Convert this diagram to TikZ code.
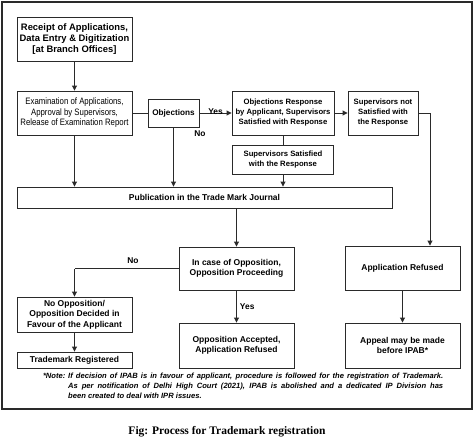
\documentclass[tikz,border=0pt]{standalone}
\usepackage{fontspec}
\setmainfont{Liberation Sans}
\newfontfamily\narrowfont[FakeStretch=0.84]{Liberation Sans}
\newfontfamily\capfont{Liberation Serif}
\usetikzlibrary{arrows.meta}
\definecolor{ln}{HTML}{2A2A2A}
\tikzset{
  box/.style={draw=ln, line width=0.9pt, inner sep=0pt, align=center, font=\fontsize{8.5}{10.5}\selectfont\bfseries, text=black},
  small/.style={font=\fontsize{7.7}{10}\selectfont\bfseries},
  arr/.style={draw=ln, line width=0.9pt, -{Triangle[length=5pt,width=5pt]}},
  ln/.style={draw=ln, line width=0.9pt},
  lab/.style={font=\fontsize{8.4}{9}\selectfont\bfseries, text=black, inner sep=0pt}
}
\begin{document}
\begin{tikzpicture}[x=1pt,y=-1pt]
\useasboundingbox (0,0) rectangle (474,442);
\draw[draw=ln, line width=2.5pt] (2,2) rectangle (472,409);
% boxes
\node[box, minimum width=115pt, minimum height=44pt, font=\fontsize{9.4}{10.7}\selectfont\bfseries] (rec) at (74.5,39) {Receipt of Applications,\\Data Entry \& Digitization\\{[at Branch Offices]}};
\node[box, minimum width=115pt, minimum height=44pt, font=\fontsize{9.3}{10.5}\narrowfont] (exam) at (74.5,113) {Examination of Applications,\\Approval by Supervisors,\\Release of Examination Report};
\node[box, minimum width=51pt, minimum height=28pt, font=\fontsize{8.2}{10}\selectfont\bfseries] (obj) at (173.5,113) {Objections};
\node[box, small, minimum width=102pt, minimum height=44pt] (resp) at (283,113) {Objections Response\\by Applicant, Supervisors\\Satisfied with Response};
\node[box, small, minimum width=70pt, minimum height=44pt] (notsat) at (383,113) {Supervisors not\\Satisfied with\\the Response};
\node[box, small, minimum width=101pt, minimum height=29pt] (sat) at (283,159.5) {Supervisors Satisfied\\with the Response};
\node[box, minimum width=375pt, minimum height=21pt] (pub) at (204.5,197.5) {Publication in the Trade Mark Journal};
\node[box, minimum width=115pt, minimum height=43pt] (opp) at (236.5,268.5) {In case of Opposition,\\Opposition Proceeding};
\node[box, minimum width=115pt, minimum height=35pt] (noopp) at (74.5,314.5) {No Opposition/\\Opposition Decided in\\Favour of the Applicant};
\node[box, minimum width=115pt, minimum height=16pt] (tmreg) at (74.5,360) {Trademark Registered};
\node[box, minimum width=115pt, minimum height=45pt] (acc) at (236.5,345.5) {Opposition Accepted,\\Application Refused};
\node[box, minimum width=115pt, minimum height=44pt] (refused) at (402.5,268) {Application Refused};
\node[box, minimum width=115pt, minimum height=45pt] (appeal) at (402.5,345.5) {Appeal may be made\\before IPAB*};
% coordinates
\coordinate (c1) at (430,113);
\coordinate (c2) at (74.5,268.5);
% connectors
\draw[arr] (rec) -- (exam);
\draw[ln] (exam) -- (obj);
\draw[arr] (obj) -- node[lab, above, yshift=-2pt]{Yes} (resp);
\node[lab] (no1) at (200,134) {No};
\draw[arr] (resp) -- (notsat);
\draw[ln] (notsat.east) -- (c1);
\draw[arr] (c1) -- (c1 |- refused.north);
\draw[ln] (resp) -- (sat);
\draw[arr] (sat) -- (sat |- pub.north);
\draw[arr] (exam) -- (exam |- pub.north);
\draw[arr] (obj) -- (obj |- pub.north);
\draw[arr] (opp.north |- pub.south) -- (opp.north);
\draw[ln] (opp.west) -- (c2);
\draw[arr] (c2) -- (noopp.north);
\node[lab] (no2) at (133,261) {No};
\draw[arr] (opp) -- node[lab, right, xshift=3pt]{Yes} (acc);
\draw[arr] (noopp) -- (tmreg);
\draw[arr] (refused) -- (appeal);
% note
\node[inner sep=0pt, anchor=north west, text width=375pt, align=justify, font=\fontsize{7.6}{10}\selectfont\bfseries\itshape] (note) at (68,373)
{\llap{*Note: }If decision of IPAB is in favour of applicant, procedure is followed for the registration of Trademark.\linebreak
As per notification of Delhi High Court (2021), IPAB is abolished and a dedicated IP Division has\linebreak
been created to deal with IPR issues.};
% caption
\node[inner sep=0pt, font=\fontsize{11.5}{13}\capfont\bfseries] (cap) at (227,432) {Fig: Process for Trademark registration};
\end{tikzpicture}
\end{document}
